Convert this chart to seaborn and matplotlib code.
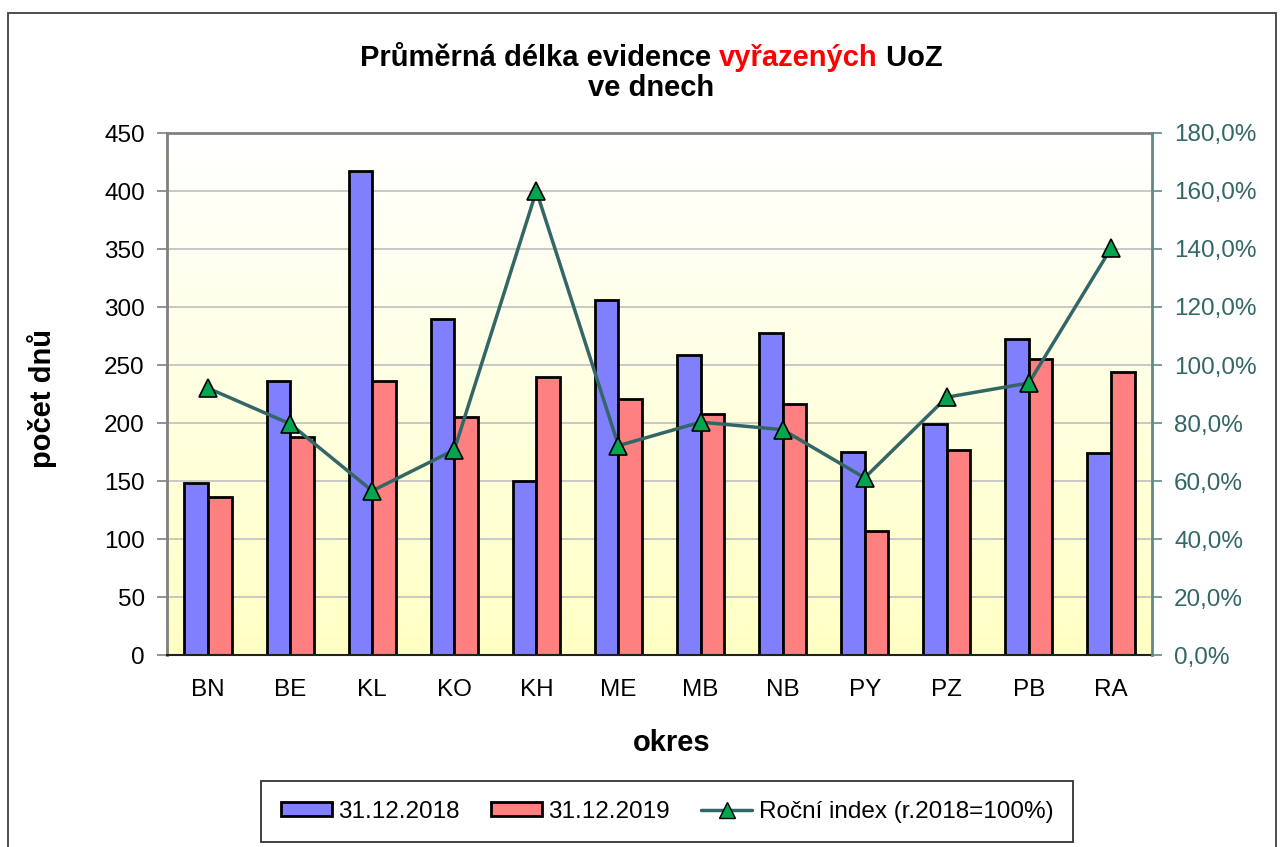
import matplotlib
matplotlib.use("Agg")
import matplotlib.pyplot as plt
import seaborn as sns
import pandas as pd
import numpy as np
from matplotlib.patches import Patch, Rectangle
from matplotlib.lines import Line2D
from matplotlib.colors import LinearSegmentedColormap
from matplotlib.ticker import FuncFormatter

# data
okresy = ["BN", "BE", "KL", "KO", "KH", "ME", "MB", "NB", "PY", "PZ", "PB", "RA"]
dny_2018 = [148, 236, 417, 290, 150, 306, 259, 278, 175, 199, 272, 174]
dny_2019 = [136, 188, 236, 205, 240, 221, 208, 216, 107, 177, 255, 244]
index_pct = [92.0, 79.7, 56.6, 70.7, 160.0, 72.2, 80.3, 77.7, 61.1, 88.9, 93.8, 140.2]
serie = ["31.12.2018", "31.12.2019"]

sns.set_theme(style="white")
plt.rcParams["font.family"] = ["Liberation Sans", "DejaVu Sans"]
for k in ["text.color", "axes.labelcolor", "xtick.color", "ytick.color"]:
    plt.rcParams[k] = "black"

df = pd.DataFrame({
    "okres": okresy * 2,
    "dny": dny_2018 + dny_2019,
    "rok": [serie[0]] * len(okresy) + [serie[1]] * len(okresy),
})

W, H = 1281, 847
fig = plt.figure(figsize=(W / 100, H / 100), dpi=100)
rect = [167 / W, 1 - 655 / H, (1152 - 167) / W, (655 - 133) / H]

# gradient background of the plot area
bg = fig.add_axes(rect, zorder=0)
cmap = LinearSegmentedColormap.from_list("grad", ["#FFFFFF", "#FFFFC4"])
bg.imshow(np.linspace(0, 1, 256).reshape(-1, 1), aspect="auto", cmap=cmap,
          extent=[0, 1, 0, 1])
bg.axis("off")

ax = fig.add_axes(rect, zorder=1)
ax.patch.set_visible(False)
ax.yaxis.grid(True, color="#C4C4C4", lw=1.3)
ax.set_axisbelow(True)

sns.barplot(data=df, x="okres", y="dny", hue="rok", palette=["#8080FF", "#FF8080"],
            width=0.575, gap=0, edgecolor="black", linewidth=2, saturation=1,
            legend=False, ax=ax)

ax.set_xlim(-0.5, len(okresy) - 0.5)
ax.set_ylim(0, 450)
ax.set_yticks(range(0, 451, 50))
ax.set_xlabel("")
ax.set_ylabel("")
ax.set_xticks(np.arange(-0.5, len(okresy), 1), minor=True)
ax.tick_params(axis="x", which="major", length=0, pad=17, labelsize=17.5, colors="black")
ax.tick_params(axis="x", which="minor", length=7, width=1.2, color="#808080")
ax.tick_params(axis="y", length=7, width=1.2, color="#808080", labelsize=17.5, pad=9,
               left=True, labelcolor="black")

for s in ["top", "left"]:
    ax.spines[s].set_color("#808080")
    ax.spines[s].set_linewidth(2)
ax.spines["bottom"].set_color("#202020")
ax.spines["bottom"].set_linewidth(1.5)
ax.spines["right"].set_visible(False)

teal = "#336666"
ax2 = ax.twinx()
ax2.set_zorder(2)
ax2.patch.set_visible(False)
ax2.plot(range(len(okresy)), index_pct, color=teal, lw=2.5, marker="^", ms=13,
         mfc="#00A550", mec="black", mew=1.2)
ax2.set_ylim(0, 180)
ax2.set_yticks(range(0, 181, 20))
ax2.yaxis.set_major_formatter(FuncFormatter(lambda v, p: f"{v:.1f}".replace(".", ",") + "%"))
ax2.tick_params(axis="y", length=7, width=1.2, color="#5F8A8A", labelsize=17.5,
                labelcolor=teal, pad=9)
for s in ["top", "left", "bottom"]:
    ax2.spines[s].set_visible(False)
ax2.spines["right"].set_color("#5F8A8A")
ax2.spines["right"].set_linewidth(2)
ax2.grid(False)

# title with the red word
fig.canvas.draw()
r = fig.canvas.get_renderer()
parts = [("Průměrná délka evidence ", "black"), ("vyřazených", "#FF0000"), (" UoZ", "black")]
texts = [fig.text(0, 0, p, fontsize=21, fontweight="bold", color=c, va="baseline")
         for p, c in parts]
widths = [t.get_window_extent(r).width for t in texts]
x0 = 651 - sum(widths) / 2
for t, w in zip(texts, widths):
    t.set_position((x0 / W, 1 - 66 / H))
    x0 += w
fig.text(651 / W, 1 - 96 / H, "ve dnech", fontsize=21, fontweight="bold",
         ha="center", va="baseline")

fig.text(42 / W, 1 - 398 / H, "počet dnů", rotation=90, fontsize=21, fontweight="bold",
         ha="center", va="center")
fig.text(672 / W, 1 - 743 / H, "okres", fontsize=21, fontweight="bold",
         ha="center", va="center")

handles = [
    Patch(facecolor="#8080FF", edgecolor="black", lw=2),
    Patch(facecolor="#FF8080", edgecolor="black", lw=2),
    Line2D([], [], color=teal, lw=2.5, marker="^", ms=12, mfc="#00A550", mec="black"),
]
labels = serie + ["Roční index (r.2018=100%)"]
leg = fig.legend(handles, labels, loc="center", bbox_to_anchor=(667 / W, 1 - 811.5 / H),
                 ncol=3, fontsize=17.5, frameon=True, fancybox=False, edgecolor="black",
                 handlelength=2.1, handleheight=0.5, handletextpad=0.25,
                 columnspacing=1.3, borderpad=0.8)
leg.get_frame().set_linewidth(1.3)

fig.patches.append(Rectangle((8 / W, -0.01), (1276 - 8) / W, 1 - 13 / H + 0.01,
                             transform=fig.transFigure, fill=False, ec="#404040", lw=1.3))

fig.savefig("out.png", dpi=100)
